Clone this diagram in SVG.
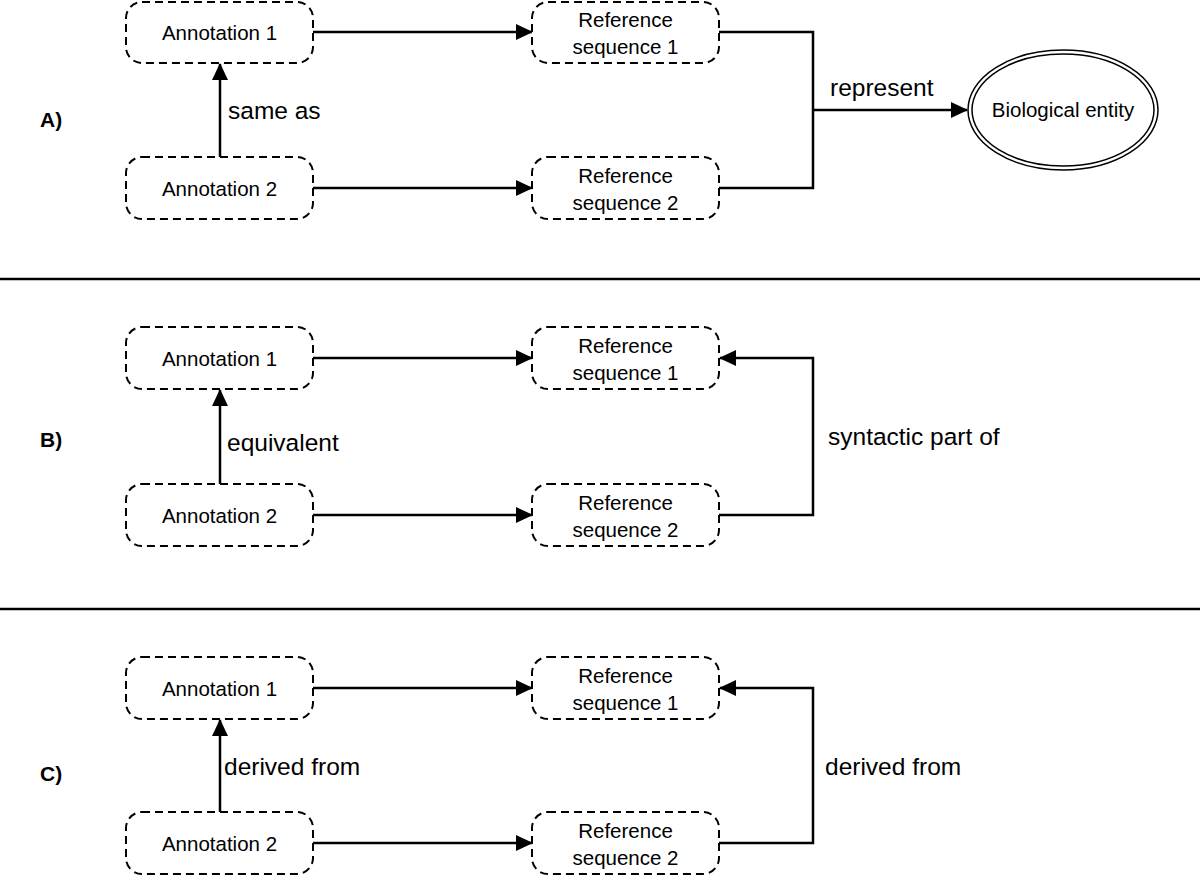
<svg xmlns="http://www.w3.org/2000/svg" width="1200" height="876" viewBox="0 0 1200 876">
<defs>
<style>
.box{fill:#fff;stroke:#000;stroke-width:2;stroke-dasharray:8,5}
.nt{font-family:"Liberation Sans",Arial,sans-serif;font-size:20.5px;fill:#000;text-anchor:middle}
.lb{font-family:"Liberation Sans",Arial,sans-serif;font-size:24.5px;fill:#000}
.pl{font-family:"Liberation Sans",Arial,sans-serif;font-size:21px;font-weight:bold;fill:#000}
.ln{fill:none;stroke:#000;stroke-width:2.5}
.sep{stroke:#000;stroke-width:2.5}
</style>
<marker id="ah" markerWidth="17" markerHeight="16" refX="16" refY="8" orient="auto" markerUnits="userSpaceOnUse">
<path d="M0,0 L17,8 L0,16 Z" fill="#000"/>
</marker>
</defs>
<rect width="1200" height="876" fill="#fff"/>

<g id="separators">
<line class="sep" x1="0" y1="279" x2="1200" y2="279"/>
<line class="sep" x1="0" y1="609" x2="1200" y2="609"/>
</g>

<g id="panel-labels">
<text class="pl" x="40" y="127">A)</text>
<text class="pl" x="40" y="447">B)</text>
<text class="pl" x="40" y="781">C)</text>
</g>

<g id="connectors">
<!-- A -->
<line class="ln" x1="313" y1="32" x2="532" y2="32" marker-end="url(#ah)"/>
<line class="ln" x1="313" y1="188" x2="532" y2="188" marker-end="url(#ah)"/>
<line class="ln" x1="220" y1="157" x2="220" y2="64" marker-end="url(#ah)"/>
<polyline class="ln" points="719,32 813,32 813,188 719,188"/>
<line class="ln" x1="813" y1="110" x2="967" y2="110" marker-end="url(#ah)"/>
<!-- B -->
<line class="ln" x1="313" y1="358" x2="532" y2="358" marker-end="url(#ah)"/>
<line class="ln" x1="313" y1="515" x2="532" y2="515" marker-end="url(#ah)"/>
<line class="ln" x1="220" y1="484" x2="220" y2="390" marker-end="url(#ah)"/>
<polyline class="ln" points="719,515 813,515 813,358 720,358" marker-end="url(#ah)"/>
<!-- C -->
<line class="ln" x1="313" y1="688" x2="532" y2="688" marker-end="url(#ah)"/>
<line class="ln" x1="313" y1="843" x2="532" y2="843" marker-end="url(#ah)"/>
<line class="ln" x1="220" y1="812" x2="220" y2="720" marker-end="url(#ah)"/>
<polyline class="ln" points="719,843 813,843 813,688 720,688" marker-end="url(#ah)"/>
</g>

<g id="edge-labels">
<text class="lb" x="228" y="119">same as</text>
<text class="lb" x="830" y="96">represent</text>
<text class="lb" x="227" y="451">equivalent</text>
<text class="lb" x="828" y="445">syntactic part of</text>
<text class="lb" x="224" y="775">derived from</text>
<text class="lb" x="825" y="775">derived from</text>
</g>

<g id="A-annotation1"><rect class="box" x="126" y="2" width="187" height="61" rx="16"/><text class="nt" x="219.5" y="40">Annotation 1</text></g>
<g id="A-annotation2"><rect class="box" x="126" y="157" width="187" height="62" rx="16"/><text class="nt" x="219.5" y="196">Annotation 2</text></g>
<g id="A-refseq1"><rect class="box" x="532" y="2" width="187" height="61" rx="16"/><text class="nt" x="625.5" y="27">Reference</text><text class="nt" x="625.5" y="54">sequence 1</text></g>
<g id="A-refseq2"><rect class="box" x="532" y="157" width="187" height="62" rx="16"/><text class="nt" x="625.5" y="183">Reference</text><text class="nt" x="625.5" y="210">sequence 2</text></g>
<g id="A-biological-entity">
<ellipse cx="1063" cy="110" rx="95" ry="60" fill="#fff" stroke="#000" stroke-width="1.5"/>
<ellipse cx="1063" cy="110" rx="91" ry="56" fill="none" stroke="#000" stroke-width="1.5"/>
<text class="nt" x="1063" y="117">Biological entity</text>
</g>

<g id="B-annotation1"><rect class="box" x="126" y="327" width="187" height="62" rx="16"/><text class="nt" x="219.5" y="366">Annotation 1</text></g>
<g id="B-annotation2"><rect class="box" x="126" y="484" width="187" height="62" rx="16"/><text class="nt" x="219.5" y="523">Annotation 2</text></g>
<g id="B-refseq1"><rect class="box" x="532" y="327" width="187" height="62" rx="16"/><text class="nt" x="625.5" y="353">Reference</text><text class="nt" x="625.5" y="380">sequence 1</text></g>
<g id="B-refseq2"><rect class="box" x="532" y="484" width="187" height="62" rx="16"/><text class="nt" x="625.5" y="510">Reference</text><text class="nt" x="625.5" y="537">sequence 2</text></g>

<g id="C-annotation1"><rect class="box" x="126" y="657" width="187" height="62" rx="16"/><text class="nt" x="219.5" y="696">Annotation 1</text></g>
<g id="C-annotation2"><rect class="box" x="126" y="812" width="187" height="62" rx="16"/><text class="nt" x="219.5" y="851">Annotation 2</text></g>
<g id="C-refseq1"><rect class="box" x="532" y="657" width="187" height="62" rx="16"/><text class="nt" x="625.5" y="683">Reference</text><text class="nt" x="625.5" y="710">sequence 1</text></g>
<g id="C-refseq2"><rect class="box" x="532" y="812" width="187" height="62" rx="16"/><text class="nt" x="625.5" y="838">Reference</text><text class="nt" x="625.5" y="865">sequence 2</text></g>
</svg>
